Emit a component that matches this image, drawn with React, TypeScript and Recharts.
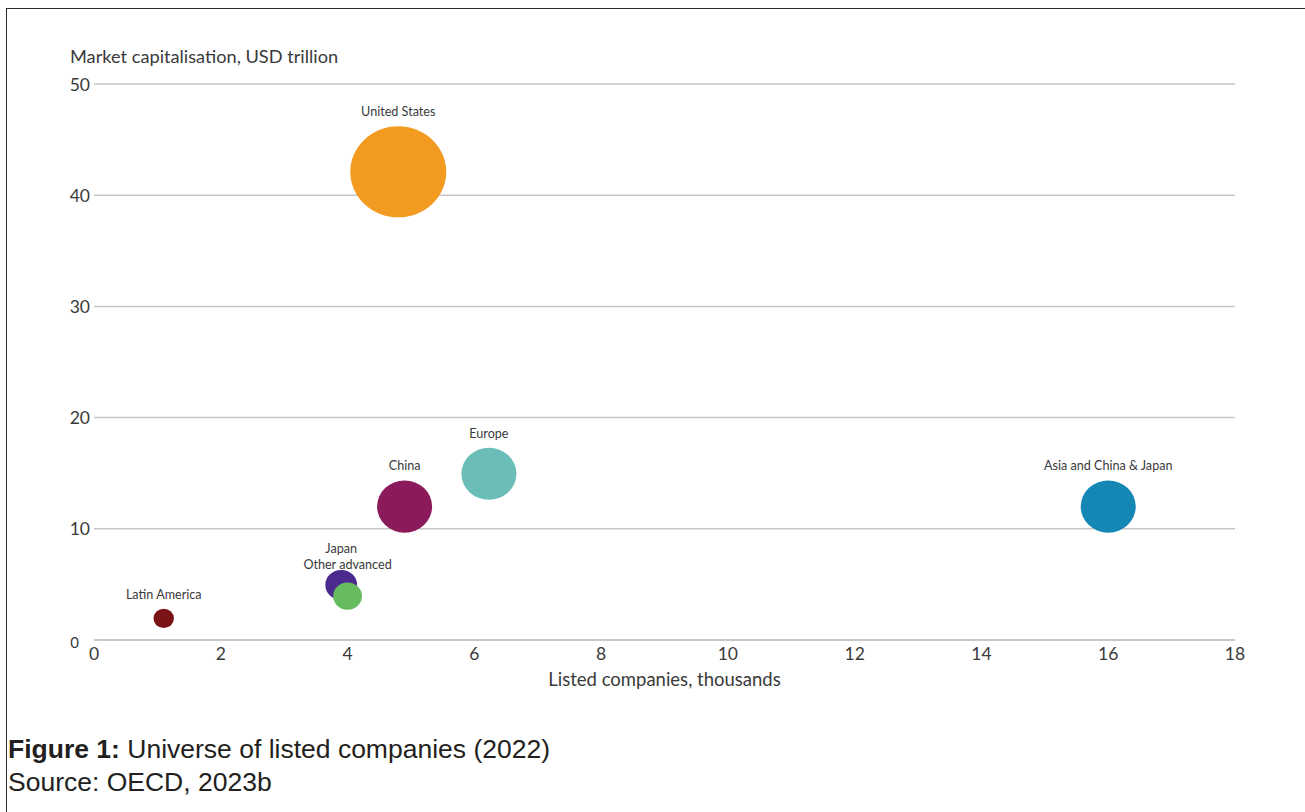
import React from 'react';
import { ScatterChart, Scatter, XAxis, YAxis, ZAxis, CartesianGrid, Label } from 'recharts';

const regions = [
  'Latin America',
  'Japan',
  'Other advanced',
  'China',
  'United States',
  'Europe',
  'Asia and China & Japan',
];
// Listed companies, thousands
const listedCompanies = [1.1, 3.9, 4.0, 4.9, 4.8, 6.23, 16.0];
// Market capitalisation, USD trillion
const marketCap = [1.95, 4.95, 3.95, 12.0, 42.1, 14.95, 12.0];
// Bubble size values
const bubbleSize = [1.9, 4.6, 3.8, 13.8, 42, 13.8, 13.8];
const colors = ['#7a1315', '#4a2a8c', '#66bb5e', '#8b1a5a', '#f39a21', '#6bbeb7', '#1487b5'];

const xTicks = [0, 2, 4, 6, 8, 10, 12, 14, 16, 18];
const yTicks = [0, 10, 20, 30, 40, 50];

const labelLift: Record<string, number> = { Japan: 17, 'Other advanced': 13.8 };

const data = regions.map((name, i) => ({
  name,
  x: listedCompanies[i],
  y: marketCap[i],
  z: bubbleSize[i],
}));

const FONT = 'Lato, "Open Sans", sans-serif';
const TEXT = '#3a3a3a';
const GRID = '#c6c6c6';

const Bubble = (props: any) => {
  const { cx, cy, width, payload } = props;
  const r = width / 2;
  const rx = r * 1.027;
  const ry = r / 1.027;
  const i = regions.indexOf(payload.name);
  const lift = labelLift[payload.name] ?? 10;
  return (
    <g>
      <ellipse cx={cx} cy={cy} rx={rx} ry={ry} fill={colors[i]} />
      <text
        x={cx}
        y={cy - ry - lift}
        textAnchor="middle"
        fontSize={12.6}
        fontFamily={FONT}
        fill={TEXT}
      >
        {payload.name}
      </text>
    </g>
  );
};

const YTick = (props: any) => {
  const { x, y, payload } = props;
  const zero = payload.value === 0;
  return (
    <text
      x={zero ? x - 11 : x}
      y={zero ? y + 2 : y}
      textAnchor="end"
      dominantBaseline="central"
      fontSize={zero ? 15 : 17.5}
      fontFamily={FONT}
      fill={TEXT}
    >
      {payload.value}
    </text>
  );
};

export default function App() {
  return (
    <div
      style={{
        position: 'absolute',
        left: 0,
        top: 0,
        width: 1305,
        height: 812,
        overflow: 'hidden',
        background: '#fff',
      }}
    >
      <div
        style={{
          position: 'absolute',
          left: 6,
          top: 8,
          width: 1400,
          height: 900,
          borderLeft: '1px solid #2e2e2e',
          borderTop: '1px solid #2e2e2e',
        }}
      />
      <div style={{ position: 'absolute', left: 0, top: 0 }}>
        <ScatterChart
          width={1300}
          height={700}
          margin={{ top: 84, right: 65, bottom: 10, left: 60 }}
        >
          <CartesianGrid vertical={false} stroke={GRID} strokeWidth={1.5} />
          <XAxis
            type="number"
            dataKey="x"
            domain={[0, 18]}
            ticks={xTicks}
            interval={0}
            axisLine={{ stroke: GRID, strokeWidth: 1.5 }}
            tickLine={false}
            tickSize={0}
            tickMargin={8}
            height={50}
            tick={{ fontSize: 17.5, fill: TEXT, fontFamily: FONT }}
          >
            <Label
              value="Listed companies, thousands"
              position="insideBottom"
              offset={4}
              style={{ fontSize: 18.5, fill: TEXT, fontFamily: FONT }}
            />
          </XAxis>
          <YAxis
            type="number"
            dataKey="y"
            domain={[0, 50]}
            ticks={yTicks}
            interval={0}
            axisLine={false}
            tickLine={false}
            tickSize={0}
            tickMargin={4}
            width={34}
            tick={<YTick />}
          >
            <Label
              content={(p: any) => (
                <text
                  x={p.viewBox.x + 10}
                  y={p.viewBox.y - 21}
                  fontSize={18.2}
                  fontFamily={FONT}
                  fill={TEXT}
                >
                  Market capitalisation, USD trillion
                </text>
              )}
            />
          </YAxis>
          <ZAxis type="number" dataKey="z" domain={[0, 42]} range={[0, 6866]} />
          <Scatter data={data} shape={<Bubble />} isAnimationActive={false} />
        </ScatterChart>
      </div>
      <div
        style={{
          position: 'absolute',
          left: 8,
          top: 733,
          fontFamily: '"Liberation Sans", Arial, sans-serif',
          fontSize: 26.5,
          lineHeight: '33px',
          color: '#231f20',
          whiteSpace: 'nowrap',
        }}
      >
        <div>
          <b>Figure 1:</b> Universe of listed companies (2022)
        </div>
        <div>Source: OECD, 2023b</div>
      </div>
    </div>
  );
}
